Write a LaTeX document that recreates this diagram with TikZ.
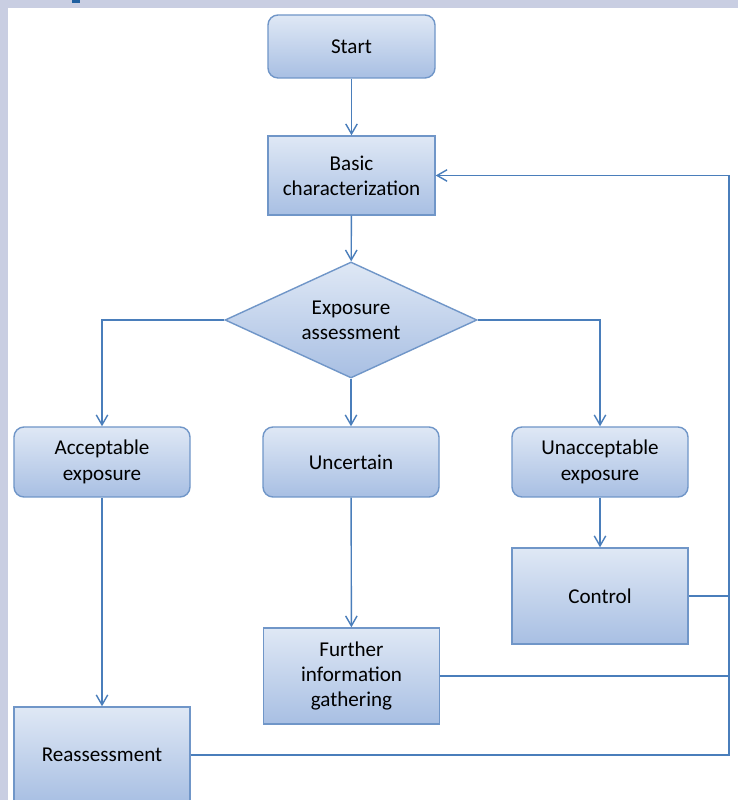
\documentclass[tikz,border=0pt]{standalone}
\usepackage{fontspec}
\setmainfont{Carlito}
\usetikzlibrary{shapes.geometric,arrows.meta}

\definecolor{pageback}{HTML}{C9CEE2}
\definecolor{titleblue}{HTML}{1F5F9F}
\definecolor{linkblue}{HTML}{4A7EBB}
\definecolor{boxedge}{HTML}{7096C8}
\definecolor{boxtop}{HTML}{DFE8F5}
\definecolor{boxbottom}{HTML}{A8BFE3}

\tikzset{
  box/.style={draw=boxedge, line width=0.8pt, top color=boxtop, bottom color=boxbottom,
    align=center, font=\fontsize{12}{14.4}\selectfont, inner sep=2pt},
  roundbox/.style={box, rounded corners=0.2cm, minimum width=3.52cm, minimum height=1.4cm},
  squarebox/.style={box, minimum width=3.52cm, minimum height=1.92cm},
  decision/.style={box, diamond, aspect=2.17, minimum width=5.04cm, minimum height=2.32cm, inner sep=0pt},
  flow/.style={draw=linkblue, line width=0.8pt},
  >={Straight Barb[length=2mm,width=2.3mm]}
}

\begin{document}
\begin{tikzpicture}
    % fond de page
    \fill[pageback] (0,0) rectangle (14.76,16);
    \fill[white] (0.16,0) rectangle (14.76,15.84);
    \fill[titleblue] (1.44,15.94) rectangle (1.6,16);
    \useasboundingbox (0,0) rectangle (14.76,16);

    \node[roundbox, minimum width=3.34cm, minimum height=1.26cm] (start) at (7.03,15.07) {Start};
    \node[squarebox, minimum width=3.34cm, minimum height=1.58cm] (basic) at (7.03,12.49) {Basic\\characterization};
    \node[decision] (assess) at (7.02,9.6) {Exposure\\assessment};
    \node[roundbox] (accept) at (2.04,6.76) {Acceptable\\exposure};
    \node[roundbox] (uncert) at (7.02,6.76) {Uncertain};
    \node[roundbox] (unaccept) at (12,6.76) {Unacceptable\\exposure};
    \node[squarebox] (control) at (12,4.08) {Control};
    \node[squarebox] (further) at (7.03,2.48) {Further\\information\\gathering};
    \node[squarebox] (reass) at (2.04,0.9) {Reassessment};

    \coordinate (railtop) at (14.58,12.49);
    \coordinate (railbot) at (14.58,0.9);

    \draw[flow, ->] (start) -- (basic);
    \draw[flow, ->] (basic) -- (assess);
    \draw[flow, ->] (assess.west) -| (accept.north);
    \draw[flow, ->] (assess.south) -- (uncert.north);
    \draw[flow, ->] (assess.east) -| (unaccept.north);
    \draw[flow, ->] (accept) -- (reass);
    \draw[flow, ->] (uncert) -- (further);
    \draw[flow, ->] (unaccept) -- (control);

    \draw[flow] (control.east) -- (control.east -| railtop);
    \draw[flow] (further.east) -- (further.east -| railtop);
    \draw[flow, ->] (reass.east) -- (railbot) -- (railtop) -- (basic.east);
\end{tikzpicture}
\end{document}
